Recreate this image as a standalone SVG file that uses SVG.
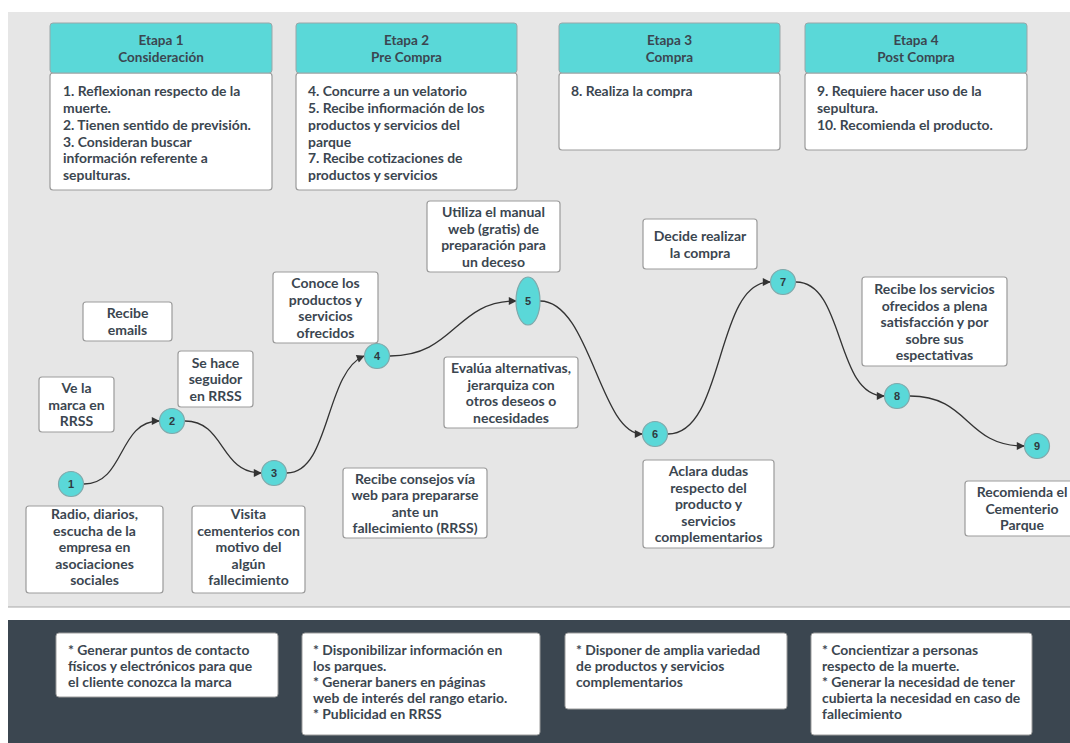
<svg xmlns="http://www.w3.org/2000/svg" width="1070" height="743" viewBox="0 0 1070 743">
<defs>
<style>
.t{font-family:Lato,"Open Sans","Liberation Sans",sans-serif;font-weight:700;fill:#3b4650}
.hd{fill:#5ad8d8;stroke:#9aa6a8;stroke-width:1}
.bd{fill:#fff;stroke:#9b9b9b;stroke-width:1.2}
.lb{fill:#fff;stroke:#9b9b9b;stroke-width:1.2}
.st{font-size:13.5px;text-anchor:middle}
.bt{font-size:13.9px}
.lt{font-size:14px;text-anchor:middle}
.nd{fill:#5ad8d8;stroke:#7fa9ab;stroke-width:1.2}
.nt{font-size:11px;text-anchor:middle;font-family:"Liberation Sans",Arial,sans-serif;font-weight:700;fill:#2f3a40}
.cn{fill:none;stroke:#333;stroke-width:1.3}
.ac{fill:#fff;stroke:#9b9b9b;stroke-width:1}
</style>
<marker id="ar" viewBox="0 0 10 10" refX="9" refY="5" markerWidth="10" markerHeight="8" markerUnits="userSpaceOnUse" orient="auto">
<path d="M0,0 L10,5 L0,10 z" fill="#333"/>
</marker>
</defs>
<rect x="0" y="0" width="1070" height="743" fill="#fff"/>
<rect x="8" y="12" width="1062" height="595" fill="#e6e6e6"/>
<line x1="8" y1="607" x2="1070" y2="607" stroke="#a8a8a8" stroke-width="1.2"/>
<rect x="8" y="620" width="1062" height="123" fill="#3b4650"/>

<g id="etapa1">
<rect class="bd" x="50" y="73" width="222" height="117" rx="3"/>
<rect class="hd" x="50" y="23" width="222" height="50" rx="3"/>
<text class="t st" x="161" y="45">Etapa 1</text>
<text class="t st" x="161" y="62">Consideración</text>
<text class="t bt" x="63" y="96">1. Reflexionan respecto de la</text>
<text class="t bt" x="63" y="113">muerte.</text>
<text class="t bt" x="63" y="130">2. Tienen sentido de previsión.</text>
<text class="t bt" x="63" y="146.5">3. Consideran buscar</text>
<text class="t bt" x="63" y="163">información referente a</text>
<text class="t bt" x="63" y="180">sepulturas.</text>
</g>
<g id="etapa2">
<rect class="bd" x="296" y="73" width="221" height="117" rx="3"/>
<rect class="hd" x="296" y="23" width="221" height="50" rx="3"/>
<text class="t st" x="406.5" y="45">Etapa 2</text>
<text class="t st" x="406.5" y="62">Pre Compra</text>
<text class="t bt" x="308" y="96">4. Concurre a un velatorio</text>
<text class="t bt" x="308" y="113">5. Recibe infiormación de los</text>
<text class="t bt" x="308" y="130">productos y servicios del</text>
<text class="t bt" x="308" y="146.5">parque</text>
<text class="t bt" x="308" y="163">7. Recibe cotizaciones de</text>
<text class="t bt" x="308" y="180">productos y servicios</text>
</g>
<g id="etapa3">
<rect class="bd" x="559" y="73" width="221" height="77" rx="3"/>
<rect class="hd" x="559" y="23" width="221" height="50" rx="3"/>
<text class="t st" x="669.5" y="45">Etapa 3</text>
<text class="t st" x="669.5" y="62">Compra</text>
<text class="t bt" x="571" y="96">8. Realiza la compra</text>
</g>
<g id="etapa4">
<rect class="bd" x="805" y="73" width="222" height="77" rx="3"/>
<rect class="hd" x="805" y="23" width="222" height="50" rx="3"/>
<text class="t st" x="916" y="45">Etapa 4</text>
<text class="t st" x="916" y="62">Post Compra</text>
<text class="t bt" x="817" y="96">9. Requiere hacer uso de la</text>
<text class="t bt" x="817" y="113">sepultura.</text>
<text class="t bt" x="817" y="130">10. Recomienda el producto.</text>
</g>

<g id="connectors">
<path class="cn" marker-end="url(#ar)" d="M84,484 C125,484 118,421 159,421"/>
<path class="cn" marker-end="url(#ar)" d="M185,421 C225,421 220,473 261,473"/>
<path class="cn" marker-end="url(#ar)" d="M287,473 C330,473 325,372 364,356"/>
<path class="cn" marker-end="url(#ar)" d="M390,356 C455,356 455,301 516,301"/>
<path class="cn" marker-end="url(#ar)" d="M540,301 C590,301 600,434 642,434"/>
<path class="cn" marker-end="url(#ar)" d="M668,434 C725,434 715,282 770,282"/>
<path class="cn" marker-end="url(#ar)" d="M796,282 C845,282 835,396 884,396"/>
<path class="cn" marker-end="url(#ar)" d="M910,396 C970,396 965,446 1024,446"/>
</g>

<g id="n1"><circle class="nd" cx="71" cy="484" r="12.5"/><text class="nt" x="71" y="488">1</text></g>
<g id="n2"><circle class="nd" cx="172" cy="421" r="12.5"/><text class="nt" x="172" y="425">2</text></g>
<g id="n3"><circle class="nd" cx="274" cy="473" r="12.5"/><text class="nt" x="274" y="477">3</text></g>
<g id="n4"><circle class="nd" cx="377" cy="356" r="12.5"/><text class="nt" x="377" y="360">4</text></g>
<g id="n5"><ellipse class="nd" cx="528" cy="301" rx="12" ry="24"/><text class="nt" x="528" y="305">5</text></g>
<g id="n6"><circle class="nd" cx="655" cy="434" r="12.5"/><text class="nt" x="655" y="438">6</text></g>
<g id="n7"><circle class="nd" cx="783" cy="282" r="12.5"/><text class="nt" x="783" y="286">7</text></g>
<g id="n8"><circle class="nd" cx="897" cy="396" r="12.5"/><text class="nt" x="897" y="400">8</text></g>
<g id="n9"><circle class="nd" cx="1037" cy="446" r="12.5"/><text class="nt" x="1037" y="450">9</text></g>

<g id="l-emails"><rect class="lb" x="83" y="302" width="89" height="39" rx="3"/>
<text class="t lt" x="127.5" y="318">Recibe</text><text class="t lt" x="127.5" y="334.5">emails</text></g>
<g id="l-ve"><rect class="lb" x="39" y="377" width="75" height="55" rx="3"/>
<text class="t lt" x="76.5" y="393">Ve la</text><text class="t lt" x="76.5" y="409.5">marca en</text><text class="t lt" x="76.5" y="426">RRSS</text></g>
<g id="l-seguidor"><rect class="lb" x="178" y="351" width="75" height="56" rx="3"/>
<text class="t lt" x="215.5" y="367.5">Se hace</text><text class="t lt" x="215.5" y="384">seguidor</text><text class="t lt" x="215.5" y="400.5">en RRSS</text></g>
<g id="l-radio"><rect class="lb" x="26" y="506" width="137" height="87" rx="3"/>
<text class="t lt" x="94.5" y="519">Radio, diarios,</text><text class="t lt" x="94.5" y="535.5">escucha de la</text><text class="t lt" x="94.5" y="552">empresa en</text><text class="t lt" x="94.5" y="568.5">asociaciones</text><text class="t lt" x="94.5" y="585">sociales</text></g>
<g id="l-visita"><rect class="lb" x="192" y="506" width="113" height="87" rx="3"/>
<text class="t lt" x="248.5" y="519">Visita</text><text class="t lt" x="248.5" y="535.5">cementerios con</text><text class="t lt" x="248.5" y="552">motivo del</text><text class="t lt" x="248.5" y="568.5">algún</text><text class="t lt" x="248.5" y="585">fallecimiento</text></g>
<g id="l-conoce"><rect class="lb" x="273" y="272" width="105" height="71" rx="3"/>
<text class="t lt" x="325.5" y="288">Conoce los</text><text class="t lt" x="325.5" y="304.5">productos y</text><text class="t lt" x="325.5" y="321">servicios</text><text class="t lt" x="325.5" y="337.5">ofrecidos</text></g>
<g id="l-utiliza"><rect class="lb" x="427" y="201" width="133" height="71" rx="3"/>
<text class="t lt" x="493.5" y="217">Utiliza el manual</text><text class="t lt" x="493.5" y="233.5">web (gratis) de</text><text class="t lt" x="493.5" y="250">preparación para</text><text class="t lt" x="493.5" y="266.5">un deceso</text></g>
<g id="l-evalua"><rect class="lb" x="444" y="357" width="134" height="71" rx="3"/>
<text class="t lt" x="511" y="373">Evalúa alternativas,</text><text class="t lt" x="511" y="389.5">jerarquiza con</text><text class="t lt" x="511" y="406">otros deseos o</text><text class="t lt" x="511" y="422.5">necesidades</text></g>
<g id="l-consejos"><rect class="lb" x="343" y="468" width="144" height="70" rx="3"/>
<text class="t lt" x="415" y="483.5">Recibe consejos vía</text><text class="t lt" x="415" y="500">web para prepararse</text><text class="t lt" x="415" y="516.5">ante un</text><text class="t lt" x="415" y="533">fallecimiento (RRSS)</text></g>
<g id="l-decide"><rect class="lb" x="643" y="219" width="114" height="50" rx="3"/>
<text class="t lt" x="700" y="241">Decide realizar</text><text class="t lt" x="700" y="257.5">la compra</text></g>
<g id="l-aclara"><rect class="lb" x="643" y="460" width="131" height="88" rx="3"/>
<text class="t lt" x="708.5" y="476">Aclara dudas</text><text class="t lt" x="708.5" y="492.5">respecto del</text><text class="t lt" x="708.5" y="509">producto y</text><text class="t lt" x="708.5" y="525.5">servicios</text><text class="t lt" x="708.5" y="542">complementarios</text></g>
<g id="l-recibe"><rect class="lb" x="862" y="277" width="145" height="89" rx="3"/>
<text class="t lt" x="934.5" y="294">Recibe los servicios</text><text class="t lt" x="934.5" y="310.5">ofrecidos a plena</text><text class="t lt" x="934.5" y="327">satisfacción y por</text><text class="t lt" x="934.5" y="343.5">sobre sus</text><text class="t lt" x="934.5" y="360">espectativas</text></g>
<g id="l-recomienda"><rect class="lb" x="965" y="481" width="114" height="55" rx="3"/>
<text class="t lt" x="1022" y="497">Recomienda el</text><text class="t lt" x="1022" y="513.5">Cementerio</text><text class="t lt" x="1022" y="530">Parque</text></g>

<g id="a1"><rect class="ac" x="56" y="633" width="222" height="64" rx="3"/>
<text class="t bt" x="68" y="655">* Generar puntos de contacto</text><text class="t bt" x="68" y="671">físicos y electrónicos para que</text><text class="t bt" x="68" y="687">el cliente conozca la marca</text></g>
<g id="a2"><rect class="ac" x="302" y="633" width="238" height="102" rx="3"/>
<text class="t bt" x="313" y="655">* Disponibilizar información en</text><text class="t bt" x="313" y="671">los parques.</text><text class="t bt" x="313" y="687">* Generar baners en páginas</text><text class="t bt" x="313" y="703">web de interés del rango etario.</text><text class="t bt" x="313" y="719">* Publicidad en RRSS</text></g>
<g id="a3"><rect class="ac" x="565" y="633" width="222" height="76" rx="3"/>
<text class="t bt" x="576" y="655">* Disponer de amplia variedad</text><text class="t bt" x="576" y="671">de productos y servicios</text><text class="t bt" x="576" y="687">complementarios</text></g>
<g id="a4"><rect class="ac" x="811" y="633" width="221" height="102" rx="3"/>
<text class="t bt" x="822" y="655">* Concientizar a personas</text><text class="t bt" x="822" y="671">respecto de la muerte.</text><text class="t bt" x="822" y="687">* Generar la necesidad de tener</text><text class="t bt" x="822" y="703">cubierta la necesidad en caso de</text><text class="t bt" x="822" y="719">fallecimiento</text></g>
</svg>
